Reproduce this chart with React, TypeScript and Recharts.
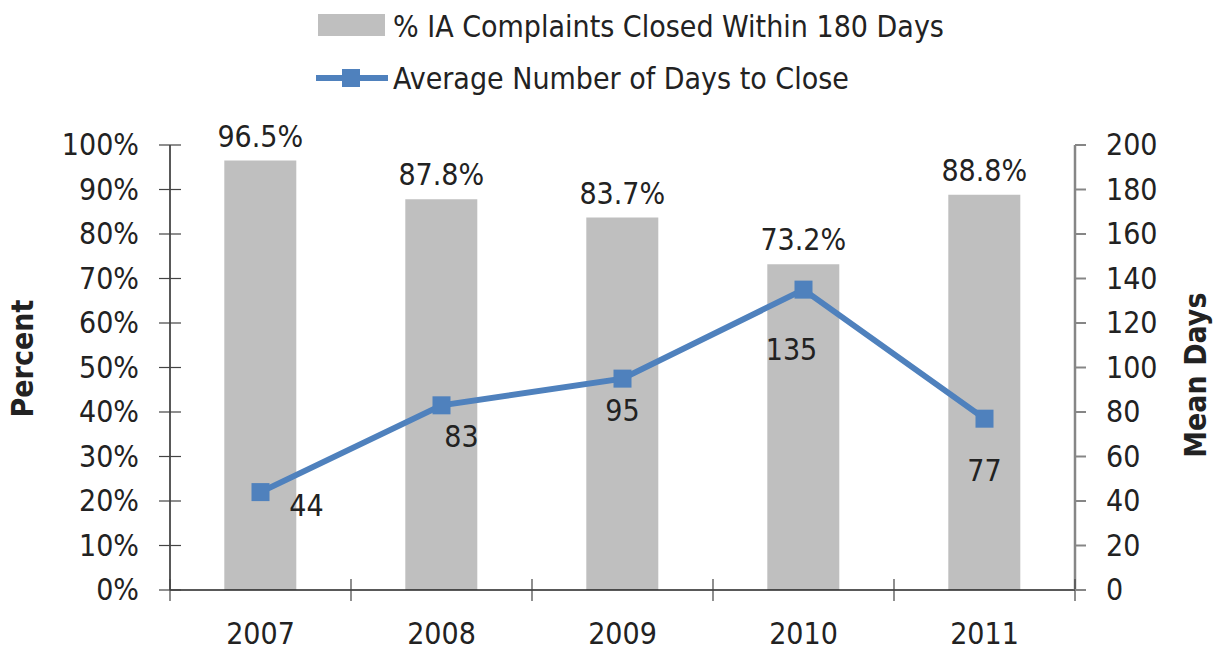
import { ComposedChart, Bar, Line, XAxis, YAxis, LabelList } from 'recharts';

const years = ['2007', '2008', '2009', '2010', '2011'];
const pctClosed = [96.5, 87.8, 83.7, 73.2, 88.8];
const avgDays = [44, 83, 95, 135, 77];
const pctTicks = [0, 10, 20, 30, 40, 50, 60, 70, 80, 90, 100];
const dayTicks = [0, 20, 40, 60, 80, 100, 120, 140, 160, 180, 200];
const barName = '% IA Complaints Closed Within 180 Days';
const lineName = 'Average Number of Days to Close';

// label nudges for the line values (dx, dy from the marker)
const dayLabelShift = [
  [46, 14],
  [20, 32],
  [0, 32],
  [-12, 60],
  [0, 52],
];

const data = years.map((year, i) => ({ year, pct: pctClosed[i], days: avgDays[i] }));

const W = 1215;
const H = 651;
const LEFT = 170;
const RIGHT = 1075;
const TOP = 145;
const BOTTOM = 590;
const BAND = (RIGHT - LEFT) / years.length;
const FONT = '"Liberation Sans Narrow", "DejaVu Sans Condensed", "Roboto Condensed", sans-serif';
const TEXT = '#222';
const BLUE = '#4F81BD';
const GREY_BAR = '#BFBFBF';

function LeftTick(props: any) {
  const { y, payload } = props;
  return (
    <g>
      <line x1={LEFT - 11} x2={LEFT + 11} y1={y} y2={y} stroke="#444" strokeWidth={1.2} />
      <text x={LEFT - 31} y={y} dy={10} textAnchor="end" fontSize={30} fill={TEXT} fontFamily={FONT}>
        {payload.value}%
      </text>
    </g>
  );
}

function RightTick(props: any) {
  const { y, payload } = props;
  return (
    <g>
      <line x1={RIGHT} x2={RIGHT + 11} y1={y} y2={y} stroke="#868686" strokeWidth={2} />
      <text x={RIGHT + 31} y={y} dy={10} textAnchor="start" fontSize={30} fill={TEXT} fontFamily={FONT}>
        {payload.value}
      </text>
    </g>
  );
}

function BottomTick(props: any) {
  const { x, payload, index } = props;
  const left = x - BAND / 2;
  return (
    <g>
      <line x1={left} x2={left} y1={BOTTOM - 11} y2={BOTTOM + 11} stroke="#444" strokeWidth={1.2} />
      {index === years.length - 1 && (
        <line x1={left + BAND} x2={left + BAND} y1={BOTTOM - 11} y2={BOTTOM + 11} stroke="#444" strokeWidth={1.2} />
      )}
      <text x={x} y={BOTTOM + 54} textAnchor="middle" fontSize={30} fill={TEXT} fontFamily={FONT}>
        {payload.value}
      </text>
    </g>
  );
}

function SquareDot(props: any) {
  const { cx, cy } = props;
  if (cx == null || cy == null) return null;
  return <rect x={cx - 9} y={cy - 9} width={18} height={18} fill={BLUE} />;
}

function DayLabel(props: any) {
  const { x, y, value, index } = props;
  const [dx, dy] = dayLabelShift[index] || [0, 32];
  return (
    <text x={x + dx} y={y + dy} dy={10} textAnchor="middle" fontSize={30} fill={TEXT} fontFamily={FONT}>
      {value}
    </text>
  );
}

function PctLabel(props: any) {
  const { x, y, width, value } = props;
  return (
    <text x={x + width / 2} y={y - 14} textAnchor="middle" fontSize={30} fill={TEXT} fontFamily={FONT}>
      {value.toFixed(1)}%
    </text>
  );
}

export default function App() {
  return (
    <div style={{ position: 'absolute', left: 0, top: 0, width: W, height: H, background: '#fff', fontFamily: FONT }}>
      <ComposedChart
        width={W}
        height={H}
        data={data}
        margin={{ top: TOP, right: W - RIGHT - 130, bottom: H - BOTTOM - 51, left: LEFT - 160 }}
        barCategoryGap="30%"
      >
        <XAxis
          dataKey="year"
          height={51}
          tick={<BottomTick />}
          tickLine={false}
          axisLine={{ stroke: '#222', strokeWidth: 1.5 }}
          interval={0}
        />
        <YAxis
          yAxisId="pct"
          width={160}
          domain={[0, 100]}
          ticks={pctTicks}
          tick={<LeftTick />}
          tickLine={false}
          axisLine={{ stroke: '#222', strokeWidth: 1.5 }}
          label={{ value: 'Percent', angle: -90, position: 'insideLeft', offset: 12, fontSize: 30, fontWeight: 'bold', fill: TEXT, fontFamily: FONT, dy: 50 }}
        />
        <YAxis
          yAxisId="days"
          orientation="right"
          width={130}
          domain={[0, 200]}
          ticks={dayTicks}
          tick={<RightTick />}
          tickLine={false}
          axisLine={{ stroke: '#868686', strokeWidth: 2.5 }}
          label={{ value: 'Mean Days', angle: -90, position: 'insideRight', offset: 10, fontSize: 30, fontWeight: 'bold', fill: TEXT, fontFamily: FONT, dy: -75 }}
        />
        <Bar yAxisId="pct" dataKey="pct" name={barName} fill={GREY_BAR} isAnimationActive={false}>
          <LabelList dataKey="pct" content={<PctLabel />} />
        </Bar>
        <Line
          yAxisId="days"
          dataKey="days"
          name={lineName}
          stroke={BLUE}
          strokeWidth={6}
          dot={<SquareDot />}
          activeDot={false}
          isAnimationActive={false}
        >
          <LabelList dataKey="days" content={<DayLabel />} />
        </Line>
      </ComposedChart>
      <svg width={W} height={110} style={{ position: 'absolute', left: 0, top: 0 }}>
        <rect x={318} y={14} width={67} height={22} fill={GREY_BAR} />
        <text x={393} y={37} fontSize={30} fill={TEXT} fontFamily={FONT}>
          {barName}
        </text>
        <line x1={316} x2={388} y1={78} y2={78} stroke={BLUE} strokeWidth={6} />
        <rect x={342} y={69} width={18} height={18} fill={BLUE} />
        <text x={393} y={89} fontSize={30} fill={TEXT} fontFamily={FONT}>
          {lineName}
        </text>
      </svg>
    </div>
  );
}
